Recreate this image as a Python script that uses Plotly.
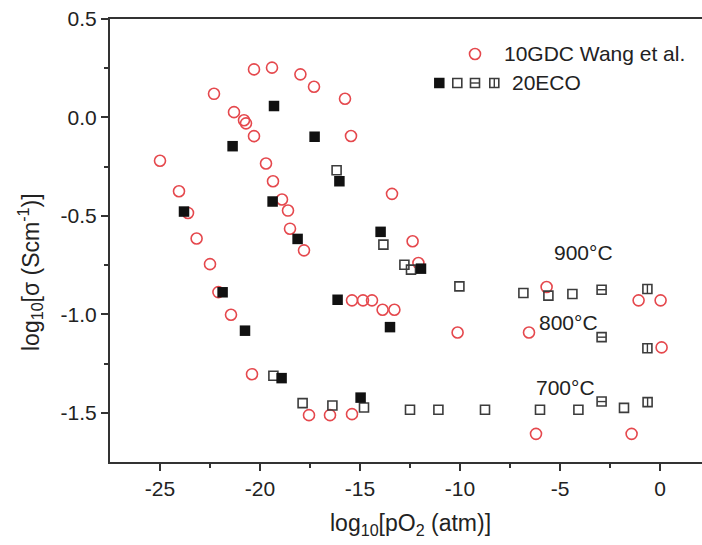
import plotly.graph_objects as go

# 10GDC conductivity (Wang et al.) vs oxygen partial pressure, 900/800/700 C
gdc_x = [-25.0, -24.05, -23.6, -23.17, -22.5, -22.08, -21.45, -20.4,
         -22.3, -21.3, -20.8, -20.7, -20.3, -20.3, -19.4, -19.7, -19.35,
         -18.9, -18.6, -18.5, -17.8, -17.98, -17.3, -15.75, -15.45, -13.4,
         -12.37, -12.08, -15.4, -14.85, -14.4, -13.87, -13.28, -10.12,
         -6.55, -5.67, -1.07, 0.03, 0.08, -17.55, -16.5, -15.4, -6.2, -1.42]
gdc_y = [-0.22, -0.375, -0.485, -0.615, -0.745, -0.887, -1.002, -1.304,
         0.12, 0.027, -0.014, -0.03, -0.095, 0.244, 0.253, -0.234, -0.324,
         -0.417, -0.473, -0.565, -0.675, 0.219, 0.156, 0.095, -0.094, -0.388,
         -0.629, -0.739, -0.929, -0.929, -0.929, -0.977, -0.977, -1.092,
         -1.092, -0.861, -0.929, -0.929, -1.168, -1.512, -1.512, -1.507,
         -1.607, -1.607]

# 20ECO, filled squares
eco_solid_x = [-23.8, -21.37, -19.3, -19.37, -18.12, -17.27, -16.03, -21.87,
               -20.75, -16.12, -18.92, -13.5, -14.97, -13.97, -11.95]
eco_solid_y = [-0.478, -0.146, 0.058, -0.427, -0.617, -0.098, -0.324, -0.888,
               -1.083, -0.926, -1.324, -1.065, -1.423, -0.581, -0.768]

# 20ECO, open squares
eco_open_x = [-16.17, -13.83, -12.78, -12.45, -10.03, -6.83, -5.58, -4.38,
              -19.33, -17.87, -16.38, -14.8, -12.5, -11.08, -8.75, -6.0,
              -4.08, -1.8]
eco_open_y = [-0.268, -0.646, -0.748, -0.773, -0.858, -0.892, -0.905, -0.897,
              -1.312, -1.451, -1.463, -1.473, -1.485, -1.485, -1.485, -1.485,
              -1.485, -1.475]

# 20ECO, squares with a horizontal bar
eco_hbar_x = [-2.92, -2.92, -2.92]
eco_hbar_y = [-0.875, -1.116, -1.443]

# 20ECO, squares with a vertical bar
eco_vbar_x = [-0.63, -0.63, -0.62]
eco_vbar_y = [-0.871, -1.172, -1.446]

x_ticks = [-25, -20, -15, -10, -5, 0]
x_tick_labels = ["-25", "-20", "-15", "-10", "-5", "0"]
x_minor = [-22.5, -17.5, -12.5, -7.5, -2.5]
y_ticks = [-1.5, -1.0, -0.5, 0.0, 0.5]
y_tick_labels = ["-1.5", "-1.0", "-0.5", "0.0", "0.5"]
y_minor = [-1.25, -0.75, -0.25, 0.25]

temp_labels = ["900°C", "800°C", "700°C"]
legend_labels = ["10GDC Wang et al.", "20ECO"]

RED = "#e5484d"
GREY = "#3c3c3c"
INK = "#222222"
FONT = "Arial, 'Liberation Sans', sans-serif"

circle = dict(symbol="circle-open", size=11, color=RED, line=dict(width=1.6, color=RED))
solid = dict(symbol="square", size=10.5, color="#111111", line=dict(width=0))
opensq = dict(symbol="square-open", size=9, color=GREY, line=dict(width=1.6, color=GREY))
hbar = dict(symbol="line-ew", size=6.2, color=GREY, line=dict(width=1.4, color=GREY))
vbar = dict(symbol="line-ns", size=6.2, color=GREY, line=dict(width=1.4, color=GREY))

fig = go.Figure()


def pts(x, y, marker, xa="x", ya="y"):
    fig.add_trace(go.Scatter(x=x, y=y, mode="markers", marker=marker,
                             xaxis=xa, yaxis=ya, showlegend=False,
                             hoverinfo="skip"))


pts(gdc_x, gdc_y, circle)
pts(eco_open_x, eco_open_y, opensq)
pts(eco_hbar_x, eco_hbar_y, opensq)
pts(eco_hbar_x, eco_hbar_y, hbar)
pts(eco_vbar_x, eco_vbar_y, opensq)
pts(eco_vbar_x, eco_vbar_y, vbar)
pts(eco_solid_x, eco_solid_y, solid)

# legend keys, placed on a hidden overlay axis measured in plot-area pixels
pts([365], [35], circle, "x2", "y2")
pts([329.3], [64], solid, "x2", "y2")
pts([347.3], [64], opensq, "x2", "y2")
pts([365, 384.3], [64, 64], opensq, "x2", "y2")
pts([365], [64], hbar, "x2", "y2")
pts([384.3], [64], vbar, "x2", "y2")

axis_common = dict(showline=True, linewidth=2, linecolor="#333333",
                   showgrid=False, zeroline=False, ticks="outside",
                   ticklen=7, tickwidth=2, tickcolor="#333333",
                   tickfont=dict(family=FONT, size=21, color=INK))

fig.update_layout(
    width=702, height=545,
    margin=dict(l=110, r=0, t=19, b=83),
    paper_bgcolor="white", plot_bgcolor="white",
    xaxis=dict(range=[-27.5, 2.1], tickmode="array", tickvals=x_ticks,
               ticktext=x_tick_labels, mirror=True,
               minor=dict(tickvals=x_minor, ticks="outside", ticklen=4,
                          tickwidth=1.5, tickcolor="#333333"),
               **axis_common),
    yaxis=dict(range=[-1.75, 0.5], tickmode="array", tickvals=y_ticks,
               ticktext=y_tick_labels, mirror=False,
               minor=dict(tickvals=y_minor, ticks="outside", ticklen=4,
                          tickwidth=1.5, tickcolor="#333333"),
               **axis_common),
    xaxis2=dict(overlaying="x", range=[0, 592], visible=False),
    yaxis2=dict(overlaying="y", range=[443, 0], visible=False),
    showlegend=False,
)


def label(text, x, y, xanchor="center", size=21, angle=0):
    fig.add_annotation(text=text, xref="paper", yref="paper", x=x, y=y,
                       xanchor=xanchor, yanchor="middle", showarrow=False,
                       textangle=angle,
                       font=dict(family=FONT, size=size, color=INK))


# axis titles
label("log<sub>10</sub>[pO<sub>2</sub> (atm)]", 0.507, -0.142, size=23)
label("log<sub>10</sub>[σ (Scm<sup>-1</sup>)]", -0.136, 0.43, size=23, angle=-90)

# legend text
label(legend_labels[0], 0.662, 0.921, xanchor="left")
label(legend_labels[1], 0.676, 0.856, xanchor="left")

# temperature labels
label(temp_labels[0], 0.799, 0.472)
label(temp_labels[1], 0.774, 0.316)
label(temp_labels[2], 0.769, 0.169)

fig.write_html("out.html")
